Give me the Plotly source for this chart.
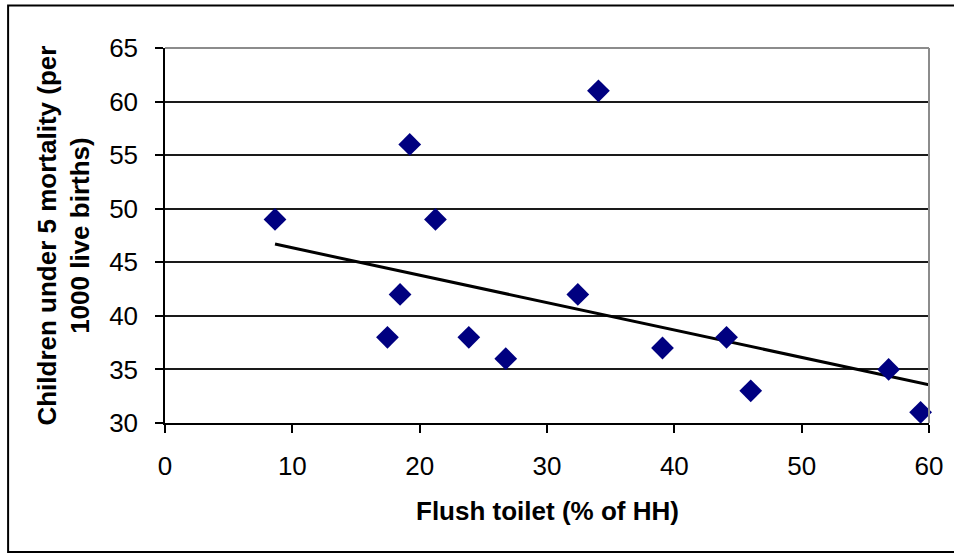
import plotly.graph_objects as go

# Flush toilet coverage (% of households) vs under-5 mortality per 1000 live births
flush_toilet_pct = [8.64, 17.47, 18.46, 19.22, 21.24, 23.86, 26.76, 32.42,
                    34.04, 39.07, 44.10, 46.00, 56.83, 59.34]
under5_mortality = [49, 38, 42, 56, 49, 38, 36, 42, 61, 37, 38, 33, 35, 31]

# Linear trend line (endpoints)
trend_x = [8.64, 60.0]
trend_y = [46.70, 33.56]

x_ticks = [0, 10, 20, 30, 40, 50, 60]
y_ticks = [30, 35, 40, 45, 50, 55, 60, 65]

FONT = "Arial, 'Liberation Sans', sans-serif"

W, H = 954, 553
L, R, T, B = 165, 24.5, 48, 130
pw, ph = W - L - R, H - T - B

fig = go.Figure()

fig.add_trace(go.Scatter(
    x=trend_x, y=trend_y, mode="lines",
    line=dict(color="black", width=3),
    hoverinfo="skip", showlegend=False, cliponaxis=False,
))

fig.add_trace(go.Scatter(
    x=flush_toilet_pct, y=under5_mortality, mode="markers",
    marker=dict(symbol="diamond", size=17.5, color="#000080",
                line=dict(width=0)),
    showlegend=False, cliponaxis=False,
))

fig.update_layout(
    width=W, height=H,
    margin=dict(l=L, r=R, t=T, b=B, pad=0),
    paper_bgcolor="white", plot_bgcolor="white",
    font=dict(family=FONT, color="black", size=26),
    xaxis=dict(
        range=[0, 60], tickvals=x_ticks, ticktext=[str(v) for v in x_ticks],
        showgrid=False, zeroline=False,
        showline=True, linecolor="black", linewidth=1.5,
        ticks="outside", ticklen=8, tickwidth=1.5, tickcolor="black",
        ticklabelstandoff=11,
        tickfont=dict(size=26, family=FONT, color="black"),
    ),
    yaxis=dict(
        range=[30, 65], tickvals=y_ticks, ticktext=[str(v) for v in y_ticks],
        showgrid=True, gridcolor="#1a1a1a", gridwidth=1.5, zeroline=False,
        showline=True, linecolor="black", linewidth=1.5,
        ticks="outside", ticklen=8, tickwidth=1.5, tickcolor="black",
        ticklabelstandoff=12,
        tickfont=dict(size=26, family=FONT, color="black"),
    ),
    annotations=[
        dict(text="<b>Flush toilet (% of HH)</b>", xref="paper", yref="paper",
             x=0.5, y=(T + ph - 511) / ph, xanchor="center", yanchor="middle",
             showarrow=False, font=dict(size=26, family=FONT, color="black")),
        dict(text="<b>Children under 5 mortality (per<br>1000 live births)</b>",
             xref="paper", yref="paper",
             x=(63 - L) / pw, y=0.5, xanchor="center", yanchor="middle",
             textangle=-90, showarrow=False,
             font=dict(size=26, family=FONT, color="black")),
    ],
    shapes=[
        # plot area border on top and right
        dict(type="line", xref="paper", yref="paper", x0=0, x1=1, y0=1, y1=1,
             line=dict(color="#8c8c8c", width=2), layer="above"),
        dict(type="line", xref="paper", yref="paper", x0=1, x1=1, y0=0, y1=1,
             line=dict(color="#8c8c8c", width=2), layer="above"),
        # chart frame
        dict(type="rect", xref="paper", yref="paper",
             x0=(8 - L) / pw, x1=(960 - L) / pw,
             y0=(T + ph - 552) / ph, y1=(T + ph - 5.5) / ph,
             line=dict(color="black", width=2), fillcolor="rgba(0,0,0,0)",
             layer="below"),
    ],
)

fig.write_html("out.html")
